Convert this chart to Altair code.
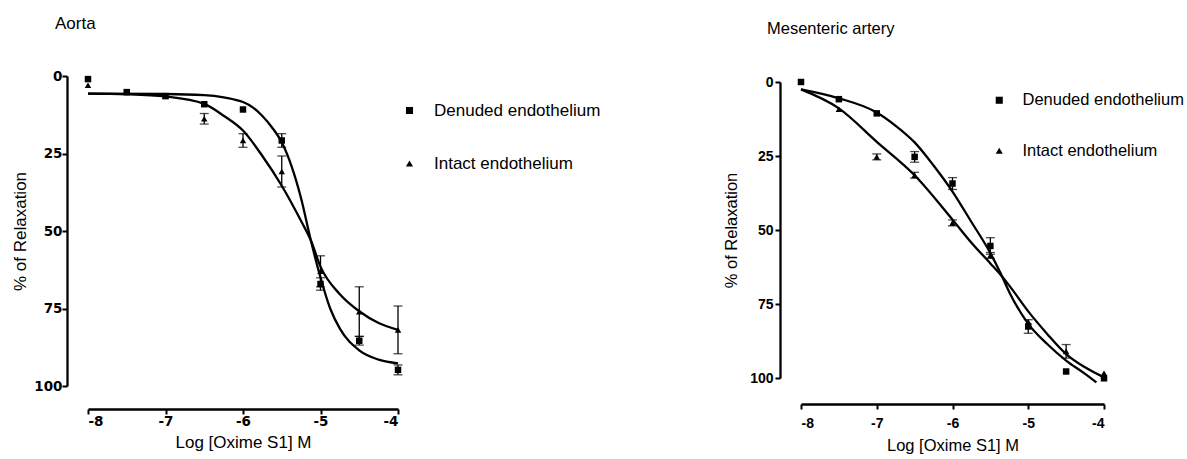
import altair as alt
import pandas as pd

# ---------------- data ----------------
doses = [-8, -7.5, -7, -6.5, -6, -5.5, -5, -4.5, -4]
series_names = ["Denuded endothelium", "Intact endothelium"]
x_ticks = [-8, -7, -6, -5, -4]
y_ticks = [0, 25, 50, 75, 100]

# Aorta
aorta_denuded = [1.0, 5.2, 6.5, 9.1, 10.8, 20.8, 67.1, 85.4, 94.8]
aorta_denuded_sem = [0, 0, 0, 0, 0, 2.2, 2.0, 1.4, 1.6]
aorta_intact = [3.0, 5.2, 6.5, 13.8, 20.8, 30.8, 63.0, 76.0, 81.9]
aorta_intact_sem = [0, 0, 0, 1.7, 2.2, 5.0, 5.0, 8.0, 7.7]
aorta_denuded_fit_x = [-8, -7, -6.5, -6.25, -6.125, -6, -5.875, -5.75, -5.625, -5.5, -5.375, -5.25,
                       -5.125, -5.0, -4.875, -4.75, -4.5, -4.25, -4]
aorta_denuded_fit_y = [5.7, 5.8, 6.2, 6.9, 7.5, 8.4, 10.1, 12.9, 16.6, 21.4, 29.0, 39.5,
                       53.0, 65.0, 75.0, 81.5, 88.5, 91.5, 92.7]
aorta_intact_fit_x = [-8, -7.5, -7, -6.5, -6.25, -6, -5.75, -5.5, -5.25, -5.125, -5.0, -4.75, -4.5, -4.25, -4]
aorta_intact_fit_y = [5.7, 5.9, 6.6, 9.0, 12.8, 17.6, 25.8, 35.4, 46.8, 53.0, 61.5, 70.4, 75.9, 79.7, 81.9]

# Mesenteric artery
mes_denuded = [0.0, 5.8, 10.6, 25.3, 34.3, 55.4, 82.6, 97.8, 100.1]
mes_denuded_sem = [0, 0, 0, 1.8, 2.0, 2.8, 2.3, 0, 0]
mes_intact = [0.0, 9.2, 25.3, 31.5, 47.6, 58.6, 81.0, 91.0, 98.4]
mes_intact_sem = [0, 0, 1.0, 1.0, 1.0, 1.0, 0, 2.3, 0]
mes_denuded_fit_x = [-8, -7.5, -7, -6.75, -6.5, -6.25, -6, -5.75, -5.5, -5.36, -5.25, -5, -4.75, -4.5, -4.25, -4.1]
mes_denuded_fit_y = [2.5, 5.5, 10.3, 14.8, 20.4, 28.2, 37.0, 47.3, 57.8, 64.9, 71.0, 81.7, 88.5, 94.1, 98.6, 101.5]
mes_intact_fit_x = [-8, -7.5, -7, -6.5, -6, -5.75, -5.5, -5.36, -5.25, -5, -4.75, -4.5, -4.25, -4]
mes_intact_fit_y = [2.5, 8.9, 20.2, 31.5, 46.5, 54.3, 61.3, 65.3, 68.8, 77.5, 85.1, 91.9, 96.4, 99.8]


def panel(title, den, den_sem, inten, int_sem, dfx, dfy, ifx, ify, c):
    pts = pd.DataFrame({
        "dose": doses + doses,
        "resp": den + inten,
        "sem": den_sem + int_sem,
        "series": [series_names[0]] * len(doses) + [series_names[1]] * len(doses),
    })
    pts["lo"] = pts["resp"] - pts["sem"]
    pts["hi"] = pts["resp"] + pts["sem"]
    bars = pts[pts["sem"] > 0]
    caps = pd.concat([bars.assign(cap=bars["lo"]), bars.assign(cap=bars["hi"])])
    fit = pd.DataFrame({
        "dose": dfx + ifx,
        "resp": dfy + ify,
        "series": [series_names[0]] * len(dfx) + [series_names[1]] * len(ifx),
    })

    xs = alt.Scale(domain=[-8, -4], nice=False, zero=False)
    ys = alt.Scale(domain=[0, 100], reverse=True, nice=False, zero=False)
    common = dict(grid=False, domainColor="black", domainWidth=2.3, tickColor="black",
                  tickWidth=2, tickSize=5, labelFont=c["tfont"], labelFontSize=c["tsize"],
                  labelFontWeight="bold", labelColor="black", titleFont="Liberation Sans",
                  titleFontSize=c["fs"], titleFontWeight="normal", titleColor="black",
                  labelExpr="'' + datum.value")
    xa = alt.Axis(values=x_ticks, title="Log [Oxime S1] M", offset=c["xoff"],
                  labelPadding=c["xlp"], titlePadding=c["xtp"], **common)
    ya = alt.Axis(values=y_ticks, title="% of Relaxation", offset=c["yoff"],
                  labelPadding=c["ylp"], titlePadding=c["ytp"], **common)
    X = alt.X("dose:Q", scale=xs, axis=xa)

    lines = alt.Chart(fit).mark_line(color="black", strokeWidth=2.3, interpolate="monotone").encode(
        x=X, y=alt.Y("resp:Q", scale=ys, axis=ya), detail="series:N")
    rules = alt.Chart(bars).mark_rule(color="black", strokeWidth=1.3).encode(
        x=X, y=alt.Y("lo:Q", scale=ys, axis=ya), y2="hi:Q")
    capm = alt.Chart(caps).mark_tick(color="black", orient="horizontal", size=9, thickness=1.3).encode(
        x=X, y=alt.Y("cap:Q", scale=ys, axis=ya))
    points = alt.Chart(pts).mark_point(filled=True, color="black", opacity=1, size=c["msize"]).encode(
        x=X, y=alt.Y("resp:Q", scale=ys, axis=ya),
        shape=alt.Shape("series:N",
                        scale=alt.Scale(domain=series_names, range=["square", "triangle-up"]),
                        legend=alt.Legend(title=None, orient="none", legendX=c["lx"], legendY=c["ly"],
                                          direction="vertical", padding=0, rowPadding=c["rp"],
                                          labelOffset=c["lo"], labelLimit=400, symbolSize=50,
                                          labelFont="Liberation Sans",
                                          labelFontSize=c["lfs"], labelColor="black",
                                          symbolFillColor="black", symbolStrokeWidth=0)))
    return alt.layer(lines, rules, capm, points).properties(
        width=c["w"], height=c["h"],
        title=alt.TitleParams(text=title, anchor="start", frame="group", dx=c["tdx"], offset=c["toff"],
                              baseline="alphabetic", font="Liberation Sans", fontSize=c["fs"],
                              fontWeight="normal", color="black"))


left_cfg = dict(w=310, h=310, xoff=23, yoff=21, tfont="DejaVu Sans", tsize=13.5, fs=17,
                xlp=0, xtp=7, ylp=0, ytp=4, msize=42, lx=313, ly=26, rp=35, lo=16, lfs=17,
                tdx=-33, toff=22.9)
right_cfg = dict(w=303, h=296, xoff=26, yoff=21, tfont="Liberation Sans", tsize=14, fs=16.5,
                 xlp=7, xtp=7, ylp=2, ytp=10, msize=42, lx=190, ly=10, rp=33.5, lo=15, lfs=16.5,
                 tdx=-34, toff=24.2)

left = panel("Aorta", aorta_denuded, aorta_denuded_sem, aorta_intact, aorta_intact_sem,
             aorta_denuded_fit_x, aorta_denuded_fit_y, aorta_intact_fit_x, aorta_intact_fit_y, left_cfg)
right = panel("Mesenteric artery", mes_denuded, mes_denuded_sem, mes_intact, mes_intact_sem,
              mes_denuded_fit_x, mes_denuded_fit_y, mes_intact_fit_x, mes_intact_fit_y, right_cfg)


def spacer(h):
    return alt.Chart(pd.DataFrame({"v": [0]})).mark_point(opacity=0, size=1).encode(
        x=alt.value(0), y=alt.value(0)).properties(width=1, height=h)


left_col = alt.vconcat(spacer(1), left, spacing=0).resolve_legend(shape="independent")
right_col = alt.vconcat(spacer(7), right, spacing=0).resolve_legend(shape="independent")

chart = alt.hconcat(left_col, right_col, spacing=122).resolve_scale(
    x="independent", y="independent", shape="independent"
).resolve_legend(shape="independent").properties(
    padding={"left": 11, "top": 13, "right": 0, "bottom": 0},
    background="white",
).configure_view(stroke=None)

chart.save("out.html", embed_options={"renderer": "svg", "actions": False})
